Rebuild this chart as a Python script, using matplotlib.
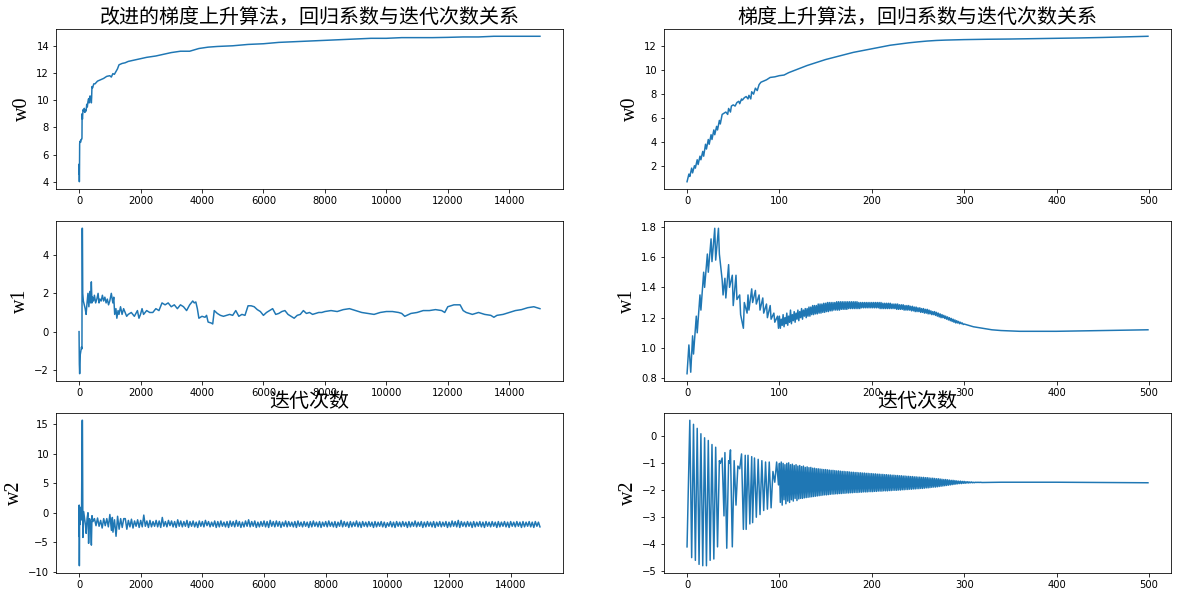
import numpy as np
import matplotlib
matplotlib.use("Agg")
import matplotlib.pyplot as plt

# ---- left column: improved (stochastic) gradient ascent, 15000 steps ----
w0l_x = [0, 5, 10, 15, 20, 30, 40, 50, 60, 80,
         95, 100, 110, 130, 150, 170, 190, 210, 230, 250,
         270, 290, 310, 330, 350, 370, 390, 400, 410, 420,
         440, 480, 520, 600, 700, 800, 900, 1000, 1050, 1100,
         1150, 1200, 1250, 1300, 1400, 1500, 1600, 1800, 2000, 2200,
         2500, 2800, 3000, 3300, 3600, 3900, 4200, 4500, 5000, 5500,
         6000, 6500, 7000, 7500, 8000, 8500, 9000, 9500, 10000, 10500,
         11000, 11500, 12000, 12500, 13000, 13500, 14000, 14500, 14999]
w0l_y = [4.6, 5.3, 4.0, 5.0, 6.8, 6.9, 7.0, 6.9, 7.1, 7.1,
         7.2, 9.0, 8.6, 9.3, 9.2, 9.4, 9.1, 9.3, 9.2, 9.7,
         9.5, 9.9, 10.1, 9.8, 10.3, 10.2, 10.3, 9.8, 10.2, 11.0,
         10.9, 11.2, 11.2, 11.4, 11.5, 11.6, 11.75, 11.8, 11.7, 11.95,
         11.9, 12.1, 12.3, 12.6, 12.7, 12.75, 12.85, 12.95, 13.05, 13.15,
         13.25, 13.4, 13.5, 13.6, 13.6, 13.8, 13.9, 13.95, 14.0, 14.1,
         14.15, 14.25, 14.3, 14.35, 14.4, 14.45, 14.5, 14.55, 14.55, 14.6,
         14.6, 14.6, 14.62, 14.65, 14.65, 14.7, 14.7, 14.7, 14.7]

w1l_x = [0, 10, 20, 40, 60, 80, 95, 100, 110, 120,
         140, 170, 200, 230, 260, 290, 320, 350, 380, 400,
         420, 440, 470, 500, 540, 580, 620, 650, 680, 720,
         760, 800, 840, 880, 920, 960, 1000, 1050, 1100, 1130,
         1160, 1200, 1230, 1270, 1300, 1350, 1400, 1450, 1500, 1550,
         1600, 1700, 1800, 1900, 1950, 2000, 2050, 2100, 2200, 2300,
         2400, 2500, 2600, 2700, 2800, 2900, 3000, 3100, 3200, 3300,
         3400, 3500, 3600, 3700, 3750, 3800, 3850, 3900, 4000, 4100,
         4150, 4200, 4300, 4350, 4400, 4500, 4600, 4700, 4800, 4900,
         5000, 5100, 5200, 5300, 5400, 5500, 5600, 5700, 5800, 5900,
         6000, 6100, 6200, 6300, 6400, 6500, 6600, 6700, 6800, 6900,
         7000, 7100, 7200, 7300, 7400, 7500, 7600, 7700, 7800, 7900,
         8000, 8200, 8400, 8600, 8800, 9000, 9200, 9400, 9600, 9800,
         10000, 10200, 10400, 10500, 10600, 10800, 11000, 11200, 11400, 11600,
         11800, 11900, 12000, 12200, 12400, 12500, 12600, 12800, 13000, 13200,
         13400, 13500, 13600, 13800, 14000, 14200, 14400, 14600, 14800, 14999]
w1l_y = [0.0, -1.7, -2.2, -1.2, -1.0, -0.8, -0.9, 5.4, 5.4, 2.0,
         1.6, 1.4, 1.2, 0.9, 1.5, 2.0, 1.3, 2.1, 1.5, 2.6,
         1.5, 1.8, 1.6, 1.9, 1.5, 1.7, 2.0, 1.5, 1.7, 1.6,
         1.9, 1.6, 1.8, 1.5, 1.7, 1.4, 1.6, 2.0, 1.5, 1.8,
         0.9, 1.2, 0.7, 1.1, 0.9, 1.3, 0.9, 1.2, 1.0, 0.8,
         0.9, 1.0, 0.8, 1.1, 0.7, 0.9, 1.2, 0.9, 1.1, 1.0,
         1.0, 1.2, 1.1, 1.5, 1.4, 1.5, 1.3, 1.4, 1.2, 1.4,
         1.3, 1.1, 1.4, 1.6, 1.5, 1.55, 1.2, 0.7, 0.8, 0.75,
         0.85, 0.5, 0.45, 0.4, 1.1, 0.95, 0.85, 0.8, 0.85, 0.9,
         0.85, 1.1, 0.8, 0.9, 0.85, 1.35, 1.35, 1.3, 1.15, 1.05,
         0.85, 1.0, 1.1, 1.2, 0.9, 0.95, 1.05, 1.1, 0.9, 0.8,
         0.7, 0.85, 0.9, 1.1, 0.95, 1.0, 0.9, 0.95, 1.0, 1.0,
         1.05, 1.1, 1.05, 1.15, 1.2, 1.1, 1.0, 0.95, 0.9, 1.0,
         1.05, 1.05, 1.0, 0.95, 0.8, 0.95, 1.0, 1.1, 1.1, 1.15,
         1.1, 1.0, 1.3, 1.4, 1.4, 1.1, 1.0, 0.9, 1.0, 0.9,
         0.85, 0.75, 0.85, 0.9, 1.0, 1.1, 1.15, 1.25, 1.3, 1.2]

w2l_x = [0, 5, 10, 20, 30, 50, 80, 100, 110, 125,
         150, 180, 210, 230, 260, 290, 310, 340, 370, 400,
         420, 450, 500, 550, 600, 650, 700, 750, 800, 850,
         900, 950, 1000, 1050, 1080, 1100, 1150, 1200, 1250, 1300,
         1350, 1400, 1450]
w2l_y = [-4.0, 1.3, -9.0, 1.0, -2.0, -1.0, -1.2, 15.7, 15.7, -4.2,
         0.2, -1.0, -2.2, -3.5, -1.0, 0.0, -5.2, -1.0, -1.5, -5.5,
         -0.5, -1.5, -1.0, -2.2, -0.9, -2.3, -1.3, -2.6, -1.0, -2.2,
         -1.0, -2.4, -0.3, -3.0, -0.8, -3.3, -1.2, -4.0, -0.6, -2.8,
         -1.0, -2.5, -1.0]
# noisy band from step 1500 on: upper / lower swings, one pair every 100 steps
w2l_hi = [-1.0, -1.3, -1.1, -1.4, -1.2, -1.3, -0.4, -1.4, -1.3, -1.5,
          -1.3, -1.4, -0.8, -1.5, -1.3, -1.4, -1.5, -1.2, -1.4, -1.5,
          -1.3, -1.5, -1.4, -1.6, -1.4, -1.5, -1.3, -1.5, -1.6, -1.4,
          -1.5, -1.4, -1.6, -1.5, -1.4, -1.5, -1.3, -1.5, -1.6, -1.4,
          -1.2, -1.5, -1.4, -1.6, -1.5, -1.4, -1.5, -1.3, -1.5, -1.4,
          -1.5, -1.6, -1.4, -1.5, -1.6, -1.5, -1.4, -1.6, -1.5, -1.6,
          -1.5, -1.4, -1.6, -1.5, -1.6, -1.5, -1.4, -1.6, -1.5, -1.6,
          -1.3, -1.5, -1.6, -1.5, -1.6, -1.4, -1.6, -1.5, -1.6, -1.5,
          -1.6, -1.5, -1.6, -1.5, -1.6, -1.7, -1.5, -1.6, -1.5, -1.6,
          -1.5, -1.6, -1.5, -1.6, -1.4, -1.6, -1.5, -1.6, -1.5, -1.6,
          -1.5, -1.6, -1.5, -1.6, -1.5, -1.6, -1.4, -1.5, -1.3, -1.5,
          -1.6, -1.5, -1.6, -1.5, -1.6, -1.5, -1.6, -1.5, -1.6, -1.5,
          -1.6, -1.5, -1.6, -1.5, -1.6, -1.5, -1.6, -1.5, -1.6, -1.5,
          -1.6, -1.5, -1.6, -1.5, -1.6]
w2l_lo = [-2.8, -2.4, -2.6, -2.3, -2.5, -2.4, -2.3, -2.5, -2.4, -2.3,
          -2.4, -2.5, -2.3, -2.4, -2.2, -2.4, -2.5, -2.3, -2.4, -2.3,
          -2.5, -2.3, -2.4, -2.5, -2.3, -2.4, -2.2, -2.4, -2.3, -2.5,
          -2.4, -2.3, -2.4, -2.5, -2.3, -2.4, -2.3, -2.5, -2.4, -2.3,
          -2.4, -2.3, -2.5, -2.4, -2.3, -2.4, -2.5, -2.3, -2.4, -2.3,
          -2.5, -2.3, -2.4, -2.3, -2.4, -2.5, -2.3, -2.4, -2.3, -2.5,
          -2.4, -2.3, -2.4, -2.5, -2.3, -2.4, -2.3, -2.4, -2.5, -2.3,
          -2.4, -2.3, -2.5, -2.4, -2.3, -2.4, -2.5, -2.3, -2.4, -2.3,
          -2.5, -2.4, -2.3, -2.4, -2.5, -2.3, -2.4, -2.5, -2.3, -2.4,
          -2.3, -2.5, -2.4, -2.3, -2.4, -2.3, -2.5, -2.4, -2.3, -2.4,
          -2.5, -2.3, -2.4, -2.3, -2.5, -2.4, -2.3, -2.4, -2.5, -2.3,
          -2.4, -2.3, -2.5, -2.4, -2.3, -2.4, -2.5, -2.3, -2.4, -2.3,
          -2.5, -2.4, -2.3, -2.4, -2.5, -2.3, -2.4, -2.3, -2.5, -2.4,
          -2.3, -2.4, -2.5, -2.3, -2.4]

# ---- right column: batch gradient ascent, 500 steps ----
w0r_x = [0, 2, 3, 5, 6, 8, 9, 11, 12, 14,
         15, 17, 18, 20, 21, 23, 24, 26, 27, 29,
         30, 32, 33, 35, 36, 38, 40, 42, 44, 45,
         47, 48, 50, 52, 54, 56, 57, 59, 60, 62,
         64, 66, 67, 69, 70, 72, 74, 76, 78, 80,
         83, 86, 90, 95, 100, 105, 110, 115, 120, 130,
         140, 150, 160, 170, 180, 190, 200, 210, 220, 230,
         240, 250, 260, 270, 280, 290, 300, 325, 350, 375,
         400, 425, 450, 475, 499]
w0r_y = [0.66, 1.3, 1.1, 1.8, 1.4, 2.0, 1.8, 2.5, 2.1, 2.8,
         2.5, 3.2, 2.8, 3.8, 3.4, 4.2, 3.8, 4.6, 4.2, 5.0,
         4.6, 5.3, 5.0, 5.8, 5.5, 6.3, 6.4, 6.5, 6.3, 6.8,
         6.5, 7.0, 7.1, 7.0, 7.3, 7.4, 7.2, 7.6, 7.5, 7.7,
         7.8, 7.6, 7.9, 7.6, 8.2, 8.0, 8.5, 8.3, 8.8, 9.0,
         9.1, 9.2, 9.4, 9.45, 9.55, 9.6, 9.8, 9.95, 10.1, 10.4,
         10.65, 10.9, 11.1, 11.3, 11.5, 11.65, 11.8, 11.95, 12.1, 12.2,
         12.3, 12.38, 12.45, 12.5, 12.53, 12.55, 12.57, 12.6, 12.62, 12.65,
         12.68, 12.71, 12.75, 12.8, 12.85]

w1r_x = [0, 2, 4, 6, 7, 10, 11, 14, 15, 18,
         19, 22, 23, 26, 27, 30, 31, 34, 35, 38,
         39, 41, 42, 45, 46, 49, 50, 53, 54, 57,
         58, 61, 62, 65, 66, 67, 70, 71, 74, 75,
         78, 79, 82, 83, 86, 87, 90, 91, 94, 95,
         98, 99]
w1r_y = [0.83, 1.02, 0.84, 1.08, 0.96, 1.21, 1.10, 1.35, 1.25, 1.50,
         1.40, 1.62, 1.50, 1.72, 1.57, 1.79, 1.58, 1.79, 1.62, 1.45,
         1.35, 1.46, 1.33, 1.55, 1.40, 1.48, 1.28, 1.48, 1.32, 1.35,
         1.22, 1.13, 1.30, 1.23, 1.35, 1.25, 1.39, 1.30, 1.38, 1.29,
         1.35, 1.25, 1.33, 1.23, 1.29, 1.20, 1.28, 1.19, 1.23, 1.17,
         1.21, 1.13]
# steps 100-299 flip every step: high / low pairs every 2 steps
w1r_hi = [1.21, 1.19, 1.22, 1.20, 1.23, 1.21, 1.25, 1.22, 1.24, 1.23,
          1.25, 1.24, 1.26, 1.25, 1.26, 1.26, 1.27, 1.27, 1.28, 1.28,
          1.28, 1.29, 1.29, 1.29, 1.295, 1.295, 1.30, 1.30, 1.30, 1.30,
          1.30, 1.305, 1.305, 1.305, 1.305, 1.305, 1.305, 1.305, 1.305, 1.305,
          1.305, 1.305, 1.305, 1.30, 1.30, 1.30, 1.30, 1.30, 1.30, 1.30,
          1.30, 1.30, 1.30, 1.30, 1.30, 1.30, 1.295, 1.295, 1.295, 1.295,
          1.295, 1.29, 1.29, 1.29, 1.29, 1.285, 1.285, 1.285, 1.28, 1.28,
          1.28, 1.275, 1.275, 1.27, 1.27, 1.265, 1.265, 1.26, 1.26, 1.255,
          1.255, 1.25, 1.245, 1.24, 1.24, 1.235, 1.23, 1.225, 1.22, 1.215,
          1.21, 1.205, 1.20, 1.195, 1.19, 1.185, 1.18, 1.175, 1.17, 1.165]
w1r_lo = [1.13, 1.15, 1.14, 1.16, 1.15, 1.17, 1.16, 1.18, 1.17, 1.19,
          1.18, 1.20, 1.19, 1.21, 1.20, 1.21, 1.21, 1.22, 1.22, 1.225,
          1.225, 1.23, 1.23, 1.235, 1.235, 1.24, 1.24, 1.245, 1.245, 1.25,
          1.25, 1.25, 1.25, 1.255, 1.255, 1.255, 1.255, 1.26, 1.26, 1.26,
          1.26, 1.26, 1.26, 1.26, 1.265, 1.265, 1.265, 1.265, 1.265, 1.265,
          1.265, 1.265, 1.265, 1.265, 1.26, 1.26, 1.26, 1.26, 1.26, 1.26,
          1.26, 1.26, 1.26, 1.255, 1.255, 1.255, 1.255, 1.25, 1.25, 1.25,
          1.25, 1.245, 1.245, 1.24, 1.24, 1.24, 1.235, 1.235, 1.23, 1.23,
          1.225, 1.225, 1.22, 1.22, 1.215, 1.21, 1.205, 1.20, 1.20, 1.195,
          1.19, 1.185, 1.18, 1.175, 1.17, 1.165, 1.165, 1.16, 1.16, 1.155]
w1r_tail_x = [300, 310, 320, 330, 340, 360, 380, 400, 450, 499]
w1r_tail_y = [1.158, 1.14, 1.13, 1.12, 1.115, 1.11, 1.11, 1.11, 1.115, 1.12]

w2r_x = [0, 3, 5, 7, 9, 11, 13, 15, 17, 19,
         21, 23, 25, 27, 29, 31, 33, 35, 36, 38,
         40, 41, 43, 45, 46, 47, 49, 51, 53, 55,
         57, 59, 61, 63, 64, 66, 68, 70, 71, 73,
         75, 77, 79, 81, 83, 85, 87, 89, 91, 93,
         95, 97, 99]
w2r_y = [-4.1, 0.6, -4.5, 0.45, -4.6, 0.3, -4.75, 0.1, -4.8, -0.05,
         -4.8, -0.15, -4.6, -0.3, -4.55, -0.4, -4.1, -0.9, -1.0, -0.8,
         -2.95, -0.6, -4.15, -0.9, -1.0, -0.5, -4.1, -0.9, -2.55, -1.1,
         -1.2, -0.65, -3.45, -0.7, -3.45, -0.7, -3.25, -0.75, -3.2, -0.8,
         -3.0, -0.85, -2.9, -0.9, -2.75, -0.95, -2.7, -0.95, -2.65, -1.3,
         -1.7, -0.95, -1.8]
w2r_hi = [-1.0, -0.95, -1.0, -1.05, -1.0, -0.98, -1.05, -1.03, -1.08, -1.05,
          -1.1, -1.08, -1.12, -1.1, -1.15, -1.13, -1.16, -1.15, -1.18, -1.18,
          -1.2, -1.2, -1.21, -1.22, -1.23, -1.23, -1.24, -1.25, -1.26, -1.26,
          -1.27, -1.28, -1.28, -1.29, -1.3, -1.3, -1.31, -1.31, -1.32, -1.33,
          -1.33, -1.34, -1.34, -1.35, -1.35, -1.36, -1.36, -1.37, -1.37, -1.38,
          -1.38, -1.39, -1.39, -1.4, -1.4, -1.41, -1.41, -1.42, -1.42, -1.43,
          -1.43, -1.44, -1.44, -1.45, -1.45, -1.46, -1.46, -1.47, -1.47, -1.48,
          -1.48, -1.49, -1.49, -1.5, -1.5, -1.51, -1.51, -1.52, -1.52, -1.53,
          -1.53, -1.54, -1.55, -1.55, -1.56, -1.57, -1.57, -1.58, -1.59, -1.6,
          -1.6, -1.61, -1.62, -1.63, -1.63, -1.64, -1.65, -1.66, -1.66, -1.67,
          -1.67, -1.68, -1.68, -1.69, -1.69, -1.7, -1.7, -1.7, -1.7, -1.7]
w2r_lo = [-2.45, -2.55, -2.35, -2.5, -2.4, -2.45, -2.35, -2.4, -2.3, -2.38,
          -2.32, -2.3, -2.3, -2.28, -2.27, -2.26, -2.25, -2.24, -2.23, -2.22,
          -2.21, -2.2, -2.19, -2.18, -2.17, -2.17, -2.16, -2.15, -2.14, -2.14,
          -2.13, -2.13, -2.12, -2.12, -2.11, -2.11, -2.1, -2.1, -2.09, -2.09,
          -2.08, -2.08, -2.08, -2.07, -2.07, -2.06, -2.06, -2.06, -2.05, -2.05,
          -2.05, -2.04, -2.04, -2.03, -2.03, -2.03, -2.02, -2.02, -2.02, -2.01,
          -2.01, -2.0, -2.0, -2.0, -1.99, -1.99, -1.98, -1.98, -1.97, -1.97,
          -1.96, -1.96, -1.95, -1.95, -1.94, -1.94, -1.93, -1.93, -1.92, -1.91,
          -1.91, -1.9, -1.89, -1.88, -1.88, -1.87, -1.86, -1.85, -1.84, -1.83,
          -1.82, -1.81, -1.8, -1.79, -1.78, -1.77, -1.76, -1.75, -1.75, -1.74,
          -1.74, -1.73, -1.73, -1.72, -1.72, -1.72, -1.71, -1.71, -1.71, -1.71]
w2r_tail_x = [320, 340, 360, 400, 450, 499]
w2r_tail_y = [-1.71, -1.70, -1.70, -1.70, -1.71, -1.72]

title_left = "改进的梯度上升算法，回归系数与迭代次数关系"
title_right = "梯度上升算法，回归系数与迭代次数关系"
xlabel = "迭代次数"
ylabels = ["w0", "w1", "w2"]


def zigzag(start, step, hi, lo):
    # alternate the read high / low swings: hi at x, lo half a step later
    xs = start + step * np.arange(len(hi))
    x = np.column_stack([xs, xs + step / 2]).ravel()
    y = np.column_stack([hi, lo]).ravel()
    return x, y


bx, by = zigzag(1500, 100, w2l_hi, w2l_lo)
w2l_all_x = np.concatenate([w2l_x, bx])
w2l_all_y = np.concatenate([w2l_y, by])

bx, by = zigzag(100, 2, w1r_hi, w1r_lo)
w1r_all_x = np.concatenate([w1r_x, bx, w1r_tail_x])
w1r_all_y = np.concatenate([w1r_y, by, w1r_tail_y])

bx, by = zigzag(100, 2, w2r_hi, w2r_lo)
w2r_all_x = np.concatenate([w2r_x, bx, w2r_tail_x])
w2r_all_y = np.concatenate([w2r_y, by, w2r_tail_y])

W, H = 1179, 597
fig = plt.figure(figsize=(W / 72, H / 72), dpi=72)

cjk = ["Noto Sans CJK SC", "DejaVu Sans"]
serif = "Liberation Serif"


def box(left, top, w=507, h=160):
    return [left / W, 1 - (top + h) / H, w / W, h / H]


series = [
    [(w0l_x, w0l_y), (w1l_x, w1l_y), (w2l_all_x, w2l_all_y)],
    [(w0r_x, w0r_y), (w1r_all_x, w1r_all_y), (w2r_all_x, w2r_all_y)],
]
lefts = [56, 664]
tops = [29, 221, 413]
titles = [title_left, title_right]

for c in range(2):
    for r in range(3):
        ax = fig.add_axes(box(lefts[c], tops[r]))
        x, y = series[c][r]
        ax.plot(x, y, color="#1f77b4", lw=1.5)
        ax.set_ylabel(ylabels[r], fontsize=20, family=serif)
        if r == 0:
            ax.set_title(titles[c], fontsize=20, family=cjk)
        elif r == 2:
            # the reference puts the x label as the title of the bottom row
            ax.set_title(xlabel, fontsize=20, family=cjk)

fig.savefig("out.png", dpi=72)
